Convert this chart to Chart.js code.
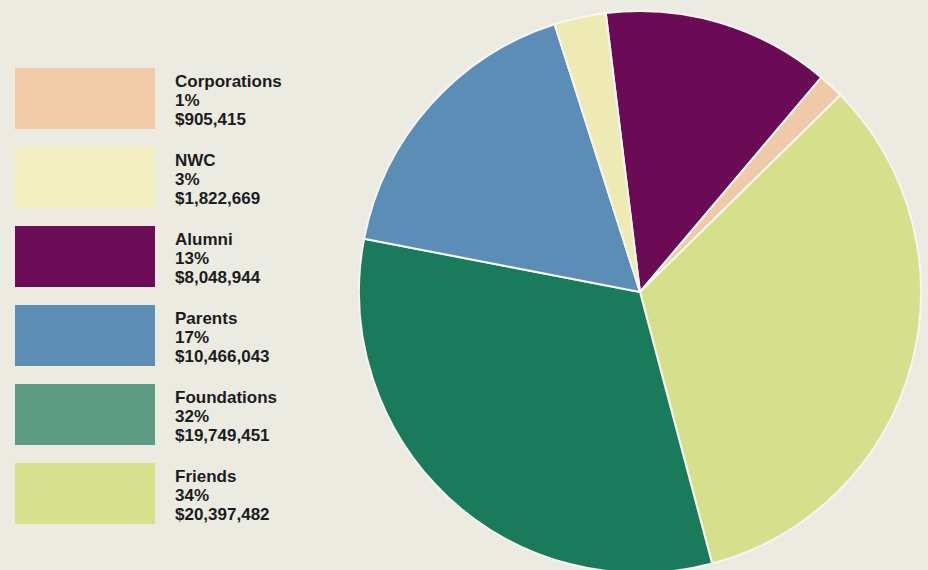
<!DOCTYPE html>
<html>
<head>
<meta charset="utf-8">
<script src="https://cdn.jsdelivr.net/npm/chart.js@4/dist/chart.umd.min.js"></script>
<style>
  html, body { margin: 0; padding: 0; }
  body { width: 928px; height: 570px; overflow: hidden; background: #ecebe2; position: relative;
         font-family: "Liberation Sans", Arial, sans-serif; }
  #legend { position: absolute; left: 15px; top: 68px; }
  .item { position: relative; height: 79px; }
  .swatch { position: absolute; left: 0; top: 0; width: 140px; height: 61px; }
  .text { position: absolute; left: 160px; top: 4px; font-weight: bold; font-size: 17px; line-height: 19px; color: #1c1c1c; white-space: nowrap; }
  #wrap { position: absolute; left: 358px; top: 10px; width: 564px; height: 564px; }
</style>
</head>
<body>
<div id="legend"></div>
<div id="wrap"><canvas id="pie"></canvas></div>
<script>
// legend order, top to bottom
const categories = ['Corporations', 'NWC', 'Alumni', 'Parents', 'Foundations', 'Friends'];
const amounts = [905415, 1822669, 8048944, 10466043, 19749451, 20397482];
const percentLabels = ['1%', '3%', '13%', '17%', '32%', '34%'];
const pieColors = ['#f0c9a9', '#efe9b4', '#6c0b55', '#5b8db6', '#1a7a5c', '#d6e08c'];
const swatchColors = ['#f0caa9', '#f3efc3', '#6d0c56', '#5d8fb5', '#5c9c84', '#d7e28e'];
// clockwise order in the pie, starting near 12 o'clock
const pieOrder = ['Alumni', 'Corporations', 'Friends', 'Foundations', 'Parents', 'NWC'];

const fmt = (v) => '$' + v.toLocaleString('en-US');

const legend = document.getElementById('legend');
categories.forEach((name, i) => {
    const item = document.createElement('div');
    item.className = 'item';
    item.innerHTML = '<div class="swatch" style="background:' + swatchColors[i] + '"></div>' +
        '<div class="text">' + name + '<br>' + percentLabels[i] + '<br>' + fmt(amounts[i]) + '</div>';
    legend.appendChild(item);
});

const idx = pieOrder.map(n => categories.indexOf(n));

new Chart(document.getElementById('pie'), {
    type: 'pie',
    data: {
        labels: idx.map(i => categories[i]),
        datasets: [{
            data: idx.map(i => amounts[i]),
            backgroundColor: idx.map(i => pieColors[i]),
            borderColor: '#f6f5ee',
            borderWidth: 2,
        }]
    },
    options: {
        responsive: true,
        maintainAspectRatio: true,
        aspectRatio: 1,
        animation: false,
        rotation: -7,
        layout: { padding: 0 },
        plugins: { legend: { display: false }, tooltip: { enabled: false } }
    }
});
</script>
</body>
</html>
